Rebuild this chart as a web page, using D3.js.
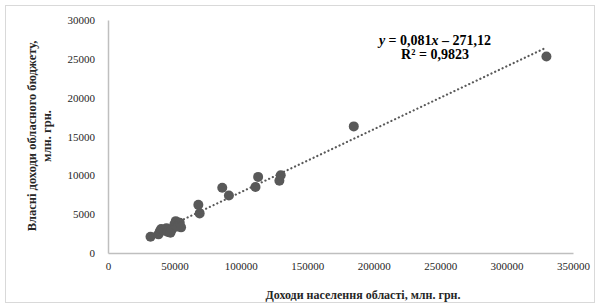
<!DOCTYPE html>
<html><head><meta charset="utf-8">
<script src="https://cdn.jsdelivr.net/npm/d3@7"></script>
<style>body{margin:0;background:#fff}svg{display:block}</style>
</head><body>
<svg id="c" width="600" height="308"></svg>
<script>
const incomeX = [32000,38000,39000,40000,42000,44000,45000,47000,48000,50000,51000,52000,54000,55000,68000,69000,86000,91000,111000,113000,129000,130000,185000,330000];
const budgetY = [2100,2400,2800,3100,2900,3200,2700,2600,3000,3700,4100,3400,3900,3300,6200,5100,8400,7400,8500,9800,9300,10000,16300,25300];
const xTicks = [0,50000,100000,150000,200000,250000,300000,350000];
const yTicks = [0,5000,10000,15000,20000,25000,30000];
const slope = 0.081, intercept = -271.12;
const eqLabel = ["= 0,081", " – 271,12"];
const r2Label = "R² = 0,9823";
const xTitle = "Доходи населення області, млн. грн.";
const yTitle = ["Власні доходи обласного бюджету,", "млн. грн."];

const svg = d3.select("#c");
const font = "'Liberation Serif','Times New Roman',serif";
svg.append("rect").attr("x",5.5).attr("y",5.5).attr("width",589).attr("height",297)
  .attr("fill","#fff").attr("stroke","#d9d9d9");

const x = d3.scaleLinear().domain([0,350000]).range([108,573]);
const y = d3.scaleLinear().domain([0,30000]).range([253,20]);

const gx = svg.append("g").attr("transform","translate(0,253)")
  .call(d3.axisBottom(x).tickValues(xTicks).tickSize(0).tickPadding(9).tickFormat(d3.format("d")));
const gy = svg.append("g").attr("transform","translate(108,0)")
  .call(d3.axisLeft(y).tickValues(yTicks).tickSize(0).tickPadding(13).tickFormat(d3.format("d")));
[gx,gy].forEach(g=>{
  g.select(".domain").attr("stroke","#bfbfbf").attr("stroke-width",1.5);
  g.selectAll("text").attr("font-family",font).attr("font-size",11).attr("fill","#262626");
});

const data = incomeX.map((v,i)=>({x:v,y:budgetY[i]}));
svg.append("g").selectAll("circle").data(data).join("circle")
  .attr("cx",d=>x(d.x)).attr("cy",d=>y(d.y)).attr("r",5).attr("fill","#595959");

const xmin = d3.min(incomeX), xmax = d3.max(incomeX);
svg.append("line")
  .attr("x1",x(xmin)).attr("y1",y(slope*xmin+intercept))
  .attr("x2",x(xmax)).attr("y2",y(slope*xmax+intercept))
  .attr("stroke","#595959").attr("stroke-width",2.2)
  .attr("stroke-dasharray","0.1,4").attr("stroke-linecap","round");

const eq = svg.append("text").attr("x",435).attr("y",45).attr("text-anchor","middle")
  .attr("font-family",font).attr("font-size",14).attr("font-weight","bold").attr("fill","#000");
eq.append("tspan").attr("font-style","italic").text("y");
eq.append("tspan").text(" "+eqLabel[0]);
eq.append("tspan").attr("font-style","italic").text("x");
eq.append("tspan").text(eqLabel[1]);
svg.append("text").attr("x",435).attr("y",59).attr("text-anchor","middle")
  .attr("font-family",font).attr("font-size",14).attr("font-weight","bold").text(r2Label);

svg.append("text").attr("x",363).attr("y",299).attr("text-anchor","middle")
  .attr("font-family",font).attr("font-size",12).attr("font-weight","bold").attr("fill","#262626").text(xTitle);
const yt = svg.append("text").attr("transform","translate(36,136) rotate(-90)").attr("text-anchor","middle")
  .attr("font-family",font).attr("font-size",12.5).attr("font-weight","bold").attr("fill","#262626");
yTitle.forEach((t,i)=>yt.append("tspan").attr("x",0).attr("dy",i?15:0).text(t));
</script>
</body></html>
